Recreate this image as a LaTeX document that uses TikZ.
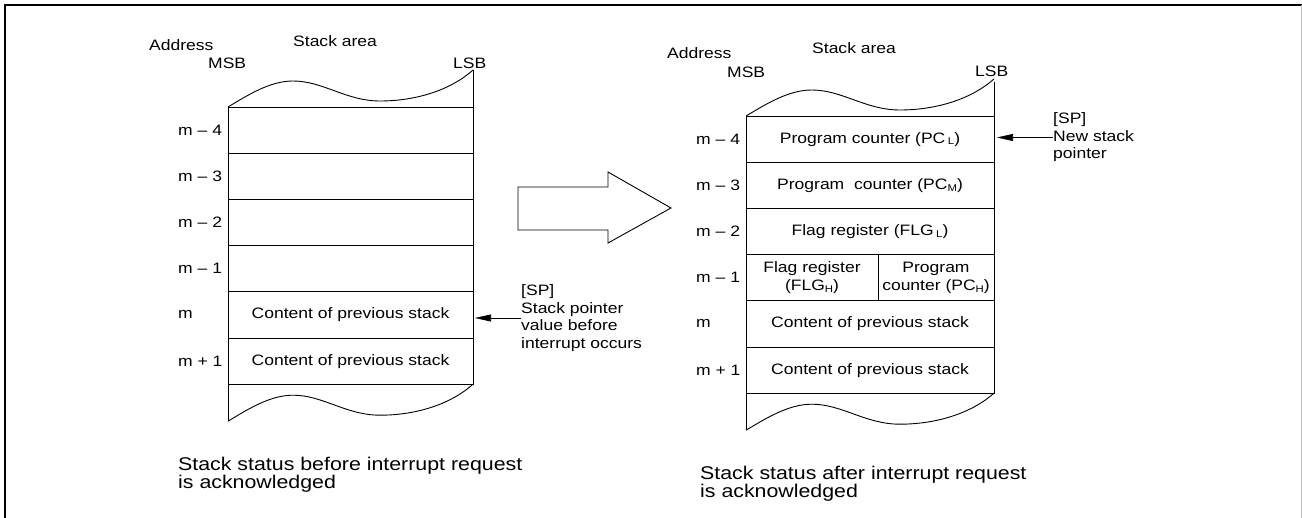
\documentclass[tikz,border=0pt]{standalone}
\usepackage{fontspec}
\setmainfont{Liberation Sans}
\newfontfamily\widefont[FakeStretch=1.16]{Liberation Sans}
\usepackage{tikz}
\usetikzlibrary{positioning}
\usetikzlibrary{arrows.meta}
\newcommand{\lblfont}{\widefont\fontsize{15.1}{17.5}\selectfont}
\newcommand{\capfont}{\widefont\fontsize{18.4}{16.5}\selectfont}
\newcommand{\subidx}[1]{\raisebox{-0.25ex}{\fontsize{9.8}{9.8}\selectfont #1}}
% wavy cut of a stack, #2 = left end
\newcommand{\stackwave}[2][1]{%
\draw[line width=0.9pt, shift={#2}, xscale=#1] (0,0) .. controls (20,-12) and (42,-26) .. (65,-26)
  .. controls (95,-26) and (118,-6) .. (152,-6) .. controls (190,-6) and (224,-18) .. (245,-37);}
\tikzset{
  cell/.style={draw, line width=0.9pt, minimum height=46.2pt, outer sep=0pt, inner sep=0pt, font=\lblfont, align=center},
  lbl/.style={inner sep=0pt, font=\lblfont},
  note/.style={inner sep=0pt, font=\lblfont, align=left},
  caption/.style={inner sep=0pt, font=\capfont, align=left},
}

\begin{document}
\begin{tikzpicture}[x=1pt,y=-1pt,>={Triangle[length=16pt,width=7pt]}]
\useasboundingbox (0,0) rectangle (1302,518);
\draw[line width=2.5pt] (5,518) -- (5,5) -- (1302,5);
\draw[black!25] (1301,5) -- (1301,518);

% before interrupt
\node[cell, minimum width=245pt, anchor=north west] (l4) at (228,107) {};
\node[cell, minimum width=245pt, below=0pt of l4] (l3) {};
\node[cell, minimum width=245pt, below=0pt of l3] (l2) {};
\node[cell, minimum width=245pt, below=0pt of l2] (l1) {};
\node[cell, minimum width=245pt, below=0pt of l1] (l0) {Content of previous stack};
\node[cell, minimum width=245pt, below=0pt of l0] (lp1) {Content of previous stack};
\draw[line width=0.9pt] (l4.north east) -- ++(0,-37);
\stackwave{(l4.north west)}
\draw[line width=0.9pt] (lp1.south west) -- ++(0,37);
\stackwave{([yshift=-37pt]lp1.south west)}

\node[lbl, anchor=west] (addrL) at (149,45) {Address};
\node[lbl, anchor=west] (areaL) at (293,41) {Stack area};
\node[lbl, anchor=west] (msbL) at (208,63) {MSB};
\node[lbl, anchor=west] (lsbL) at (453,63) {LSB};

\node[note, anchor=west] (spL) at (521,318) {[SP]\\Stack pointer\\value before\\interrupt occurs};
\draw[->, line width=0.6pt, shorten >=2pt] (spL.west) -- (spL.west -| l0.east);

\node[caption, anchor=west] (capL) at (178,475) {Stack status before interrupt request\\is acknowledged};

% big arrow
\draw[line width=0.9pt] (518,187) -- (608,187) -- (608,172) -- (671,208) -- (608,243) -- (608,230) -- (518,230) -- cycle;

% after interrupt
\node[cell, minimum width=248pt, anchor=north west] (r4) at (746,116) {Program counter (PC\,\subidx{L})};
\node[cell, minimum width=248pt, below=0pt of r4] (r3) {Program~~counter (PC\subidx{M})};
\node[cell, minimum width=248pt, below=0pt of r3] (r2) {Flag register (FLG\,\subidx{L})};
\node[cell, minimum width=132pt, anchor=north west] (r1a) at (r2.south west) {Flag register\\(FLG\subidx{H})};
\node[cell, minimum width=116pt, right=0pt of r1a] (r1b) {Program\\counter (PC\subidx{H})};
\node[cell, minimum width=248pt, anchor=north west] (r0) at (r1a.south west) {Content of previous stack};
\node[cell, minimum width=248pt, below=0pt of r0] (rp1) {Content of previous stack};
\draw[line width=0.9pt] (r4.north east) -- ++(0,-34);
\stackwave[1.012]{(r4.north west)}
\draw[line width=0.9pt] (rp1.south west) -- ++(0,37);
\stackwave[1.012]{([yshift=-37pt]rp1.south west)}

\node[lbl, anchor=west] (addrR) at (667,53) {Address};
\node[lbl, anchor=west] (areaR) at (812,48) {Stack area};
\node[lbl, anchor=west] (msbR) at (727,72) {MSB};
\node[lbl, anchor=west] (lsbR) at (975,71) {LSB};

\node[note, anchor=west] (spR) at (1053,137.5) {[SP]\\New stack\\pointer};
\draw[->, line width=0.6pt, shorten >=3pt] (spR.west) -- (spR.west -| r4.east);

\node[caption, anchor=west] (capR) at (700,484) {Stack status after interrupt request\\is acknowledged};

% address labels
\foreach \n/\t in {l4/m – 4, l3/m – 3, l2/m – 2, l1/m – 1, l0/m, lp1/m + 1,
                   r4/m – 4, r3/m – 3, r2/m – 2, r1a/m – 1, r0/m, rp1/m + 1}
  \node[lbl, anchor=west] (a\n) at ([xshift=-50pt]\n.west) {\t};
\end{tikzpicture}
\end{document}
